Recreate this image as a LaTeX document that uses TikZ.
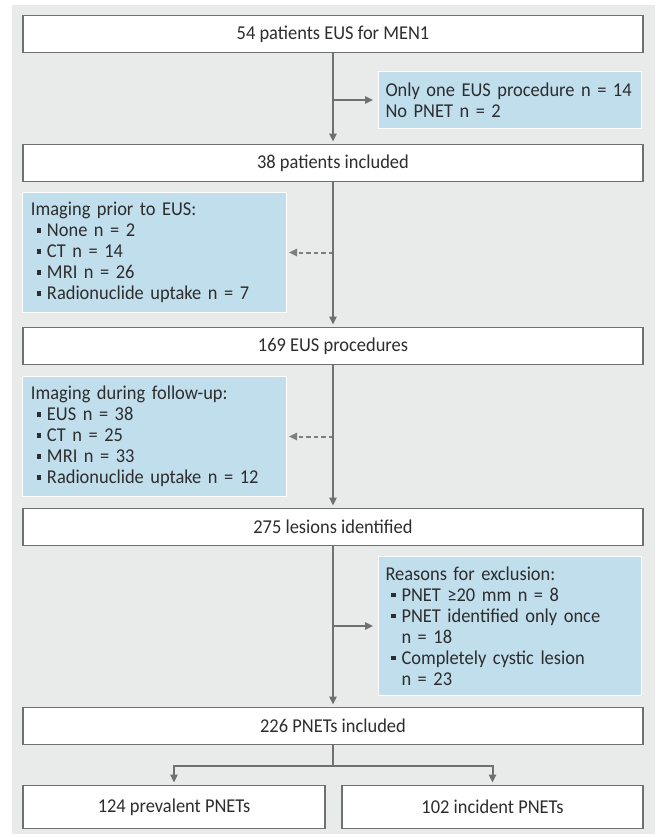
\documentclass[tikz,border=0pt]{standalone}
\usepackage{fontspec}
\setmainfont{Carlito}[FakeStretch=0.94]
\usetikzlibrary{arrows.meta,positioning}

\definecolor{panelgray}{RGB}{233,235,235}
\definecolor{infoblue}{RGB}{193,222,237}
\definecolor{linegray}{RGB}{112,112,112}
\definecolor{inkgray}{RGB}{45,45,45}
\newcommand{\sq}{\makebox[8pt][l]{\hspace*{2.8pt}\rule[2pt]{2.2pt}{2.2pt}}}
\newcommand{\hang}{\hspace*{8pt}}

\begin{document}
\begin{tikzpicture}[
  font=\fontsize{9.8}{10.5}\selectfont, text=inkgray,
  stage/.style={draw=linegray, fill=white, line width=0.6pt, minimum width=310pt,
                minimum height=18.5pt, inner sep=0pt, outer sep=0pt},
  info/.style={draw=white, fill=infoblue, line width=0.5pt, align=left,
               text width=123pt, inner xsep=4.5pt, inner ysep=0pt, outer sep=0pt},
  flow/.style={draw=linegray, line width=1pt},
  hint/.style={draw=linegray!90, line width=1pt, dash pattern=on 2.2pt off 1.5pt},
  >={Triangle[length=4pt,width=3.6pt]}
]
\useasboundingbox (0,0) rectangle (327.5pt,-418.5pt);
\fill[panelgray] (6pt,-2.5pt) rectangle (327.5pt,-417pt);

\node[stage] (pat54) at (166.5pt,-17pt) {54 patients EUS for MEN1};
\node[info, minimum height=28.5pt, text width=124pt, inner xsep=3.75pt,
      below left=9.5pt and 1pt of pat54.south east] (excl1)
  {Only one EUS procedure n = 14\\No PNET n = 2};
\node[stage, below=46pt of pat54] (pat38) {38 patients included};
\node[info, minimum height=60pt,
      below right=5.5pt and -0.5pt of pat38.south west] (prior)
  {Imaging prior to EUS:\\\sq None n = 2\\\sq CT n = 14\\\sq MRI n = 26\\
   \sq Radionuclide uptake n = 7};
\node[stage, below=73pt of pat38] (eus169) {169 EUS procedures};
\node[info, minimum height=60pt,
      below right=6pt and -0.5pt of eus169.south west] (follow)
  {Imaging during follow-up:\\\sq EUS n = 38\\\sq CT n = 25\\\sq MRI n = 33\\
   \sq Radionuclide uptake n = 12};
\node[stage, below=72pt of eus169] (les275) {275 lesions identified};
\node[info, minimum height=69.5pt, text width=124pt, inner xsep=3.75pt,
      below left=5.5pt and 1pt of les275.south east] (excl2)
  {Reasons for exclusion:\\\sq PNET ≥20 mm n = 8\\\sq PNET identified only once\\
   \hang n = 18\\\sq Completely cystic lesion\\\hang n = 23};
\node[stage, below=81pt of les275] (pnet226) {226 PNETs included};
\node[stage, minimum width=151pt, minimum height=21.5pt,
      below right=20.5pt and 0pt of pnet226.south west] (prev) {124 prevalent PNETs};
\node[stage, minimum width=150.5pt, minimum height=21.5pt,
      below left=20.5pt and 0pt of pnet226.south east] (inc) {102 incident PNETs};

% junctions on the main line
\coordinate (j1) at (pat54.south |- excl1.west);
\coordinate (j2) at (pat38.south |- prior.east);
\coordinate (j3) at (eus169.south |- follow.east);
\coordinate (j4) at (les275.south |- excl2.west);
\coordinate (fork) at ([yshift=-10.5pt]pnet226.south);

\draw[hint, ->, shorten >=1.5pt] (j2) -- (prior.east);
\draw[hint, ->, shorten >=1.5pt] (j3) -- (follow.east);
\draw[flow, ->, shorten >=1.5pt] (pat54) -- (pat38);
\draw[flow, ->, shorten >=1.5pt] (pat38) -- (eus169);
\draw[flow, ->, shorten >=1.5pt] (eus169) -- (les275);
\draw[flow, ->, shorten >=1.5pt] (les275) -- (pnet226);
\draw[flow, ->, shorten >=2.5pt] (j1) -- (excl1.west);
\draw[flow, ->, shorten >=2.5pt] (j4) -- (excl2.west);
\draw[flow] (pnet226) -- (fork);
\draw[flow, ->, shorten >=1.5pt] (fork) -| (prev);
\draw[flow, ->, shorten >=1.5pt] (fork) -| (inc);
\end{tikzpicture}
\end{document}
